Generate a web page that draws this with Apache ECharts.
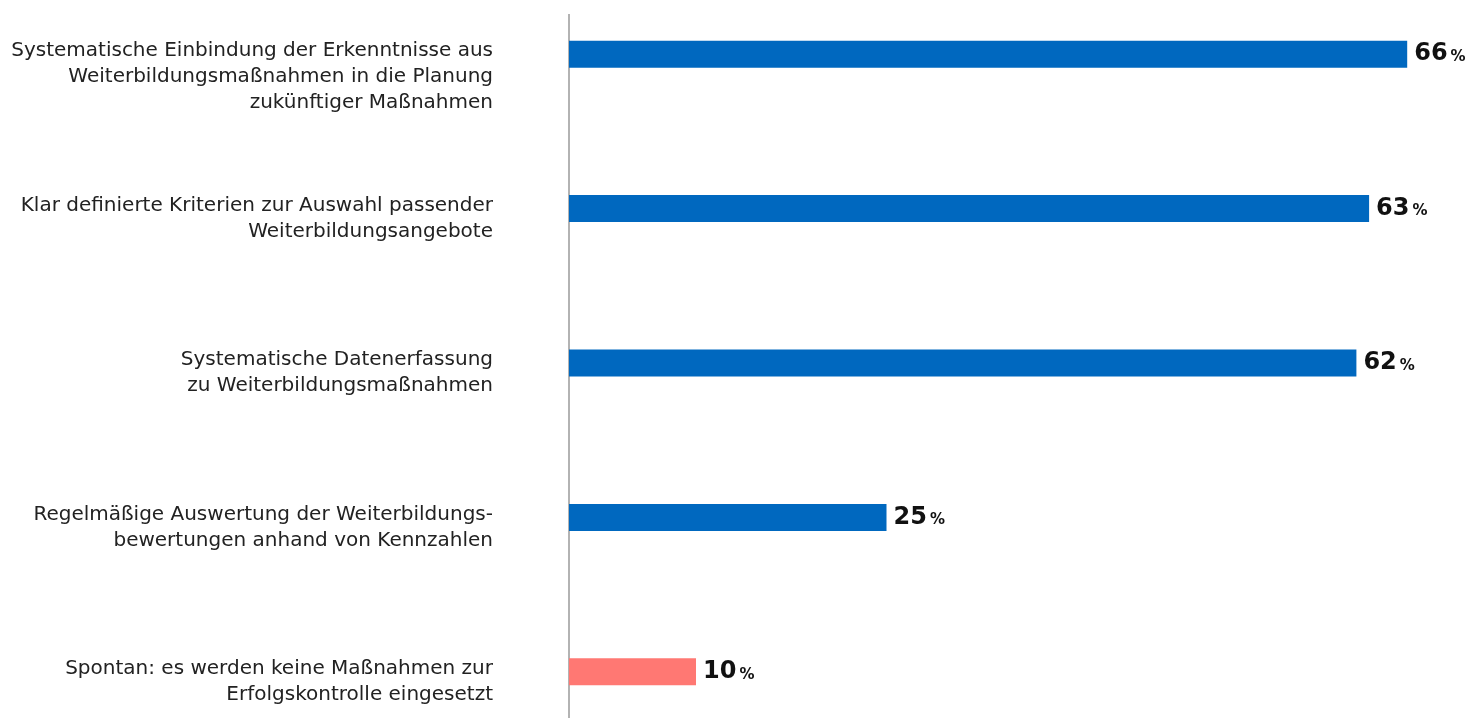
<!DOCTYPE html>
<html>
<head>
<meta charset="utf-8">
<script src="https://cdn.jsdelivr.net/npm/echarts@6/dist/echarts.min.js"></script>
<style>
  html, body { margin: 0; padding: 0; background: #fff; overflow: hidden; }
  body { width: 1469px; height: 718px; position: relative; }
  /* taller than the page so the outer category bands run past both edges */
  #chart { position: absolute; left: 0; top: -23px; width: 1469px; height: 772px; }
</style>
</head>
<body>
<div id="chart"></div>
<script>
// Survey answers: measures used to evaluate further training
const categories = [
  'Systematische Einbindung der Erkenntnisse aus\nWeiterbildungsmaßnahmen in die Planung\nzukünftiger Maßnahmen',
  'Klar definierte Kriterien zur Auswahl passender\nWeiterbildungsangebote',
  'Systematische Datenerfassung\nzu Weiterbildungsmaßnahmen',
  'Regelmäßige Auswertung der Weiterbildungs-\nbewertungen anhand von Kennzahlen',
  'Spontan: es werden keine Maßnahmen zur\nErfolgskontrolle eingesetzt'
];
const shares = [66, 63, 62, 25, 10];
const barColors = ['#0068bf', '#0068bf', '#0068bf', '#0068bf', '#ff7873'];

// Hang each label from its first line: blank lines above balance the lines below,
// and a thin trailing spacer lifts the block slightly.
function hangFromFirstLine(text) {
  const lines = text.split('\n');
  const blanks = Array(lines.length - 1).fill('{t| }');
  return blanks.concat(lines.map(l => '{t|' + l + '}')).concat('{s| }').join('\n');
}

const chart = echarts.init(document.getElementById('chart'));

chart.setOption({
  animation: false,
  grid: { left: 569, right: 11, top: 0, bottom: 0, containLabel: false },
  xAxis: {
    type: 'value', min: 0, max: 70, show: false
  },
  yAxis: {
    type: 'category',
    inverse: true,
    data: categories,
    axisLine: { show: false },
    axisTick: { show: false },
    axisLabel: {
      interval: 0,
      margin: 76,
      align: 'right',
      formatter: hangFromFirstLine,
      rich: {
        t: { fontFamily: 'DejaVu Sans', fontSize: 20, lineHeight: 26, color: '#222', align: 'right' },
        s: { fontSize: 4, lineHeight: 6 }
      }
    }
  },
  graphic: [{
    type: 'line',
    shape: { x1: 569, y1: 37, x2: 569, y2: 772 },
    style: { stroke: '#9a9a9a', lineWidth: 1.5 }
  }],
  series: [{
    type: 'bar',
    barWidth: 27,
    data: shares.map((v, i) => ({ value: v, itemStyle: { color: barColors[i] } })),
    label: {
      show: true,
      position: 'right',
      distance: 7,
      formatter: p => '{n|' + p.value + '}{p|%}',
      rich: {
        n: { fontFamily: 'DejaVu Sans', fontSize: 24, fontWeight: 'bold', color: '#111', padding: [0, 3, 0, 0] },
        p: { fontFamily: 'DejaVu Sans', fontSize: 15, fontWeight: 'bold', color: '#111', padding: [6, 0, 0, 0] }
      }
    }
  }]
});
</script>
</body>
</html>
